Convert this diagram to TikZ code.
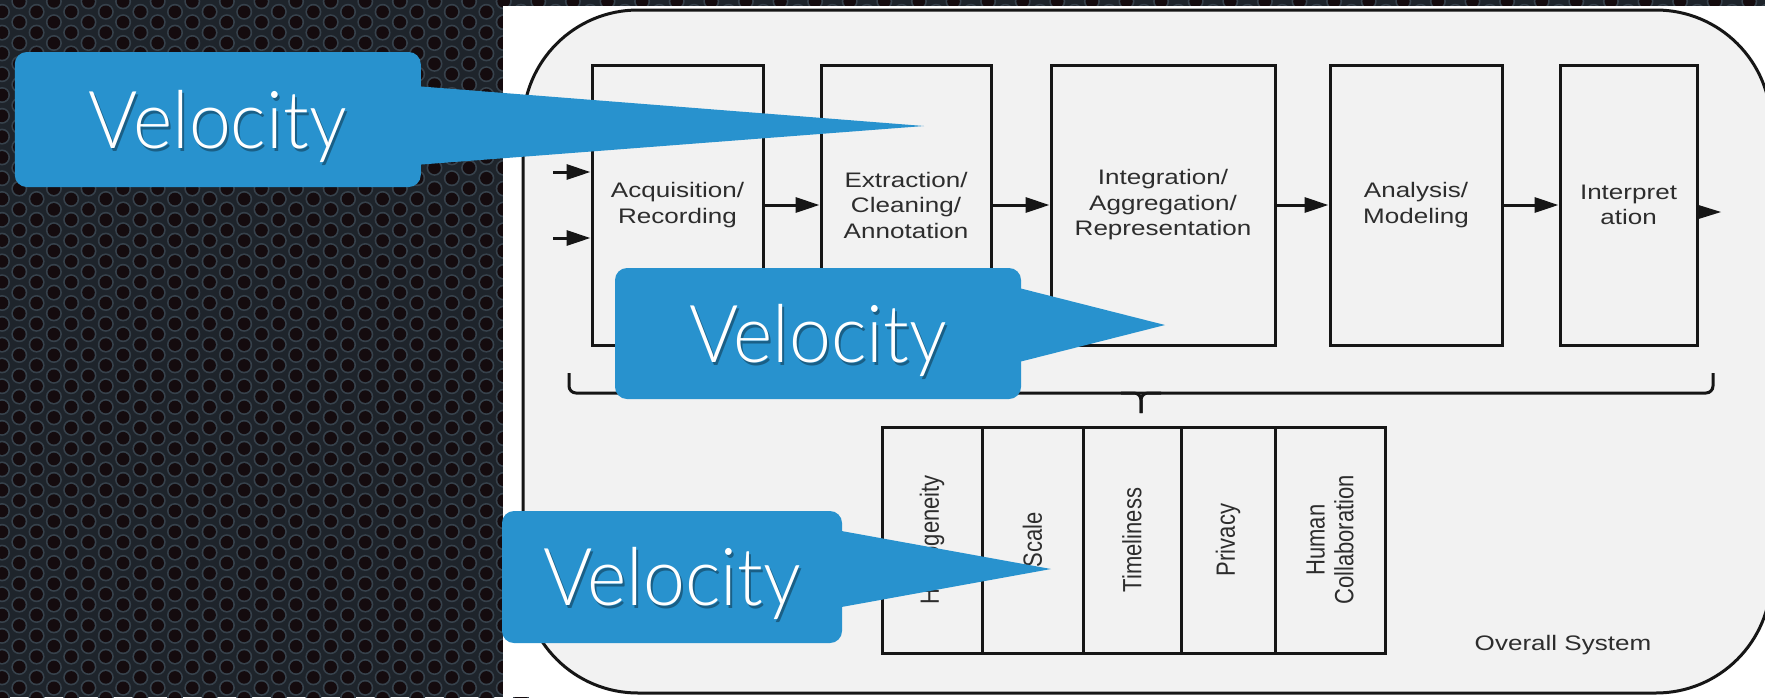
\documentclass[tikz,border=0pt]{standalone}
\usepackage{fontspec}
\setmainfont{Liberation Sans}
\newfontfamily\diafont[FakeStretch=1.24]{Liberation Sans}
\newfontfamily\rotfont{Liberation Sans}
\newfontfamily\velfont[FakeStretch=0.94]{Lato Light}
\usetikzlibrary{arrows.meta,calc}
\definecolor{callblue}{RGB}{40,146,206}
\definecolor{linec}{RGB}{22,22,22}
\definecolor{textc}{RGB}{45,45,45}
\definecolor{sysfill}{RGB}{242,242,242}
\definecolor{metalbase}{RGB}{30,36,43}
\definecolor{metalring}{RGB}{55,66,76}
\definecolor{metalhole}{RGB}{20,11,14}
\begin{document}
\begin{tikzpicture}[x=1pt,y=-1pt,
  stagebox/.style={draw=linec, line width=3pt, minimum height=280pt, inner sep=0pt,
    text=textc, font=\diafont\fontsize{21}{25.5}\selectfont, align=center},
  colbox/.style={draw=linec, line width=3pt, minimum height=226pt, inner sep=0pt},
  coltext/.style={rotate=90, yscale=1.2, text=textc, inner sep=0pt, align=center,
    font=\rotfont\fontsize{22}{24}\selectfont},
  arr/.style={draw=linec, line width=3pt, -{Triangle[length=24pt,width=15pt]}},
  callbox/.style={fill=callblue, rounded corners=12pt, inner sep=0pt},
  veltext/.style={text=white, inner sep=0pt, text height=57pt, text depth=0pt,
    font=\velfont\fontsize{80}{90}\selectfont},
  velshadow/.style={veltext, text=black, opacity=0.35},
  ring/.style={fill=metalring},
  hole/.style={fill=metalhole}]
\useasboundingbox (0,0) rectangle (1765,697);
% metal background
\fill[metalbase] (0,0) rectangle (1765,697);
\foreach \i in {0,...,30} {
  \pgfmathsetmacro\xx{2+17.3*\i}
  \pgfmathsetmacro\yo{mod(\i,2)==0 ? 11.8 : 1.4}
  \foreach \j in {-1,...,34} {
    \fill[ring] (\xx,\yo+20.8*\j) circle[radius=8pt];
    \fill[hole] (\xx,\yo+20.8*\j) circle[radius=6.3pt];
  }
}
\foreach \i in {29,...,103} {
  \pgfmathsetmacro\xx{2+17.3*\i}
  \pgfmathsetmacro\yo{mod(\i,2)==0 ? 11.8 : 1.4}
  \foreach \j in {-1,0,1} {
    \fill[ring] (\xx,\yo+20.8*\j) circle[radius=8pt];
    \fill[hole] (\xx,\yo+20.8*\j) circle[radius=6.3pt];
  }
}
% white panel
\fill[white] (503,6) rectangle (1765,697);
% overall system
\draw[linec, line width=3pt, fill=sysfill, rounded corners=115pt] (523,10) rectangle (1771,693);
\node[text=textc, font=\diafont\fontsize{21}{25}\selectfont, anchor=base, inner sep=0pt] (sys) at (1563,650) {Overall System};
% stages
\node[stagebox, minimum width=171pt] (acq) at (677.5,205) {Acquisition/\\Recording};
\node[stagebox, minimum width=170pt] (ext) at (906,205) {Extraction/\\Cleaning/\\Annotation};
\node[stagebox, minimum width=224pt] (intg) at (1163,205) {Integration/\\Aggregation/\\Representation};
\node[stagebox, minimum width=172pt] (ana) at (1416,205) {Analysis/\\Modeling};
\node[stagebox, minimum width=137pt] (intp) at (1628.5,205) {Interpret\\ation};
% arrows
\coordinate (in1) at (553,172);
\coordinate (in2) at (553,238);
\draw[arr] (in1) -- (in1 -| acq.west);
\draw[arr] (in2) -- (in2 -| acq.west);
\draw[arr] (acq) -- (ext);
\draw[arr] (ext) -- (intg);
\draw[arr] (intg) -- (ana);
\draw[arr] (ana) -- (intp);
\coordinate (out) at (1721,212);
\coordinate (o1) at (intp.east |- out);
\fill[linec] ($(o1)+(0,-7)$) -- (out) -- ($(o1)+(0,7)$) -- cycle;
% brace
\coordinate (bl) at (569,373);
\coordinate (br) at (1713,373);
\coordinate (bt) at (1141,413);
\draw[linec, line width=3pt, rounded corners=7pt] (bl) -- (569,393) -- (1713,393) -- (br);
\draw[linec, line width=3pt, rounded corners=7pt] (1121,393) -| (bt);
\draw[linec, line width=3pt, rounded corners=7pt] (1161,393) -| (bt);
% challenge columns
\node[colbox, minimum width=100pt] (hom) at (932,540) {};
\node[colbox, minimum width=101pt] (sca) at (1032.5,540) {};
\node[colbox, minimum width=98pt] (tim) at (1132,540) {};
\node[colbox, minimum width=94pt] (pri) at (1228,540) {};
\node[colbox, minimum width=110pt] (hum) at (1330,540) {};
\node[coltext] (homt) at (hom) {Homogeneity};
\node[coltext] (scat) at (sca) {Scale};
\node[coltext] (timt) at (tim) {Timeliness};
\node[coltext] (prit) at (pri) {Privacy};
\node[coltext] (humt) at (hum) {Human\\Collaboration};
% callouts
\node[callbox, minimum width=406pt, minimum height=135pt] (v1) at (217.75,119.5) {};
\coordinate (t1) at (924,126);
\fill[callblue] (415,86) -- (t1) -- (415,165) -- cycle;
\node[velshadow] at ([shift={(2pt,-3pt)}]v1.center) {Velocity};
\node[veltext] (v1t) at (v1.center) {Velocity};

\node[callbox, minimum width=406pt, minimum height=131pt] (v2) at (818,333.5) {};
\coordinate (t2) at (1165,325);
\fill[callblue] (1015,287) -- (t2) -- (1015,363) -- cycle;
\node[velshadow] at ([shift={(2pt,-3pt)}]v2.center) {Velocity};
\node[veltext] (v2t) at (v2.center) {Velocity};

\node[callbox, minimum width=340pt, minimum height=132pt] (v3) at (672,577) {};
\coordinate (t3) at (1051,569);
\fill[callblue] (836,530) -- (t3) -- (836,608) -- cycle;
\node[velshadow] at ([shift={(2pt,-3pt)}]v3.center) {Velocity};
\node[veltext] (v3t) at (v3.center) {Velocity};
\end{tikzpicture}
\end{document}
